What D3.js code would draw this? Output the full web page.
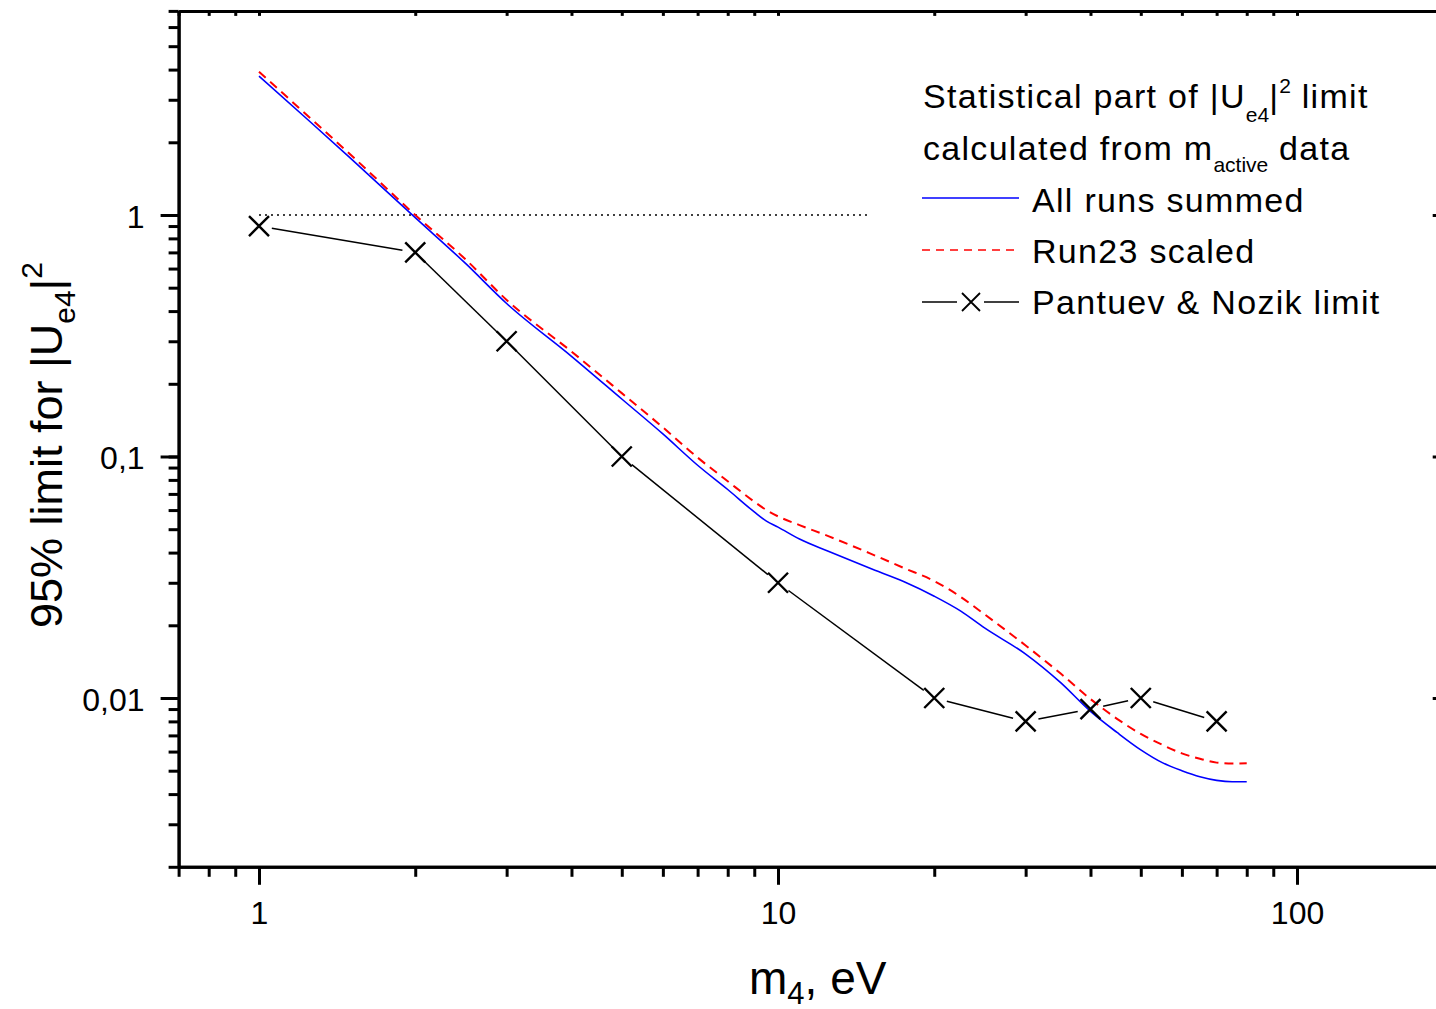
<!DOCTYPE html>
<html>
<head>
<meta charset="utf-8">
<script src="https://d3js.org/d3.v7.min.js"></script>
<style>
  body { margin: 0; background: #fff; }
  svg text { font-family: "Liberation Sans", Arial, Helvetica, sans-serif; fill: #000; }
</style>
</head>
<body>
<div id="chart"></div>
<script>
// m4 grid (eV) for the two computed limit curves
const massGrid = [1, 1.25, 1.5, 2, 2.5, 3, 4, 5, 6, 7, 8, 9, 9.5, 10, 11, 12.5, 15, 17.5, 20, 22.5, 25, 30, 35, 40, 45, 50, 55, 60, 65, 70, 75, 80];
const allRunsSummed = [3.76, 2.45, 1.72, 0.975, 0.63, 0.43, 0.26, 0.173, 0.124, 0.092, 0.073, 0.059, 0.054, 0.051, 0.0455, 0.0405, 0.0345, 0.0303, 0.0264, 0.0229, 0.0195, 0.0152, 0.0116, 0.0088, 0.0072, 0.0061, 0.0054, 0.005, 0.00472, 0.00456, 0.0045, 0.0045];
const run23Scaled = [3.92, 2.54, 1.78, 1.0, 0.655, 0.445, 0.272, 0.183, 0.132, 0.099, 0.079, 0.065, 0.06, 0.0565, 0.052, 0.0468, 0.0398, 0.0345, 0.0305, 0.0262, 0.0222, 0.0165, 0.01265, 0.0099, 0.0082, 0.0071, 0.0064, 0.0059, 0.0056, 0.0054, 0.00535, 0.00537];

// Pantuev & Nozik limit points
const pantuevMass = [1, 2, 3, 5, 10, 20, 30, 40, 50, 70];
const pantuevLimit = [0.9, 0.7, 0.3, 0.1, 0.03, 0.01, 0.008, 0.009, 0.01, 0.008];

// dotted reference at |Ue4|^2 = 1
const unityMass = [1, 15];
const unityValue = [1, 1];

const xMajorTicks = [1, 10, 100];
const xTickLabels = ["1", "10", "100"];
const yMajorTicks = [0.01, 0.1, 1];
const yTickLabels = ["0,01", "0,1", "1"];

const width = 1436;
const height = 1009;

const svg = d3.select("#chart")
  .append("svg")
  .attr("width", width)
  .attr("height", height);

const x = d3.scaleLog().domain([0.7, 190]).range([178.6, 1441.7]);
const y = d3.scaleLog().domain([0.002, 7]).range([866.8, 10.9]);

const x0 = x.range()[0], x1 = x.range()[1];
const y0 = y.range()[0], y1 = y.range()[1];

// minor tick positions: every integer multiple inside each decade
function minorTicks(scale) {
  const [a, b] = scale.domain();
  const out = [];
  for (let e = Math.floor(Math.log10(a)); e <= Math.ceil(Math.log10(b)); e++) {
    for (let k = 1; k <= 9; k++) {
      const v = k * Math.pow(10, e);
      if (v >= a * 0.999 && v <= b * 1.001) out.push(v);
    }
  }
  return out;
}
const xMinor = minorTicks(x);
const yMinor = minorTicks(y);

function styleAxis(g) {
  g.selectAll("path.domain").attr("stroke", "#000").attr("stroke-width", 3);
  g.selectAll(".tick line").attr("stroke", "#000").attr("stroke-width", 3);
}

// bottom axis
svg.append("g")
  .attr("transform", `translate(0,${y0})`)
  .call(d3.axisBottom(x).tickValues(xMinor).tickSize(10).tickSizeOuter(0).tickFormat(""))
  .call(styleAxis);
const xb = svg.append("g")
  .attr("transform", `translate(0,${y0})`)
  .call(d3.axisBottom(x).tickValues(xMajorTicks).tickSize(18).tickSizeOuter(0)
    .tickFormat((d, i) => xTickLabels[i]))
  .call(styleAxis);
xb.selectAll("text").attr("y", 57).attr("dy", null)
  .style("font-size", "32px").style("font-family", null);

// left axis
svg.append("g")
  .attr("transform", `translate(${x0},0)`)
  .call(d3.axisLeft(y).tickValues(yMinor).tickSize(10).tickSizeOuter(0).tickFormat(""))
  .call(styleAxis);
const yl = svg.append("g")
  .attr("transform", `translate(${x0},0)`)
  .call(d3.axisLeft(y).tickValues(yMajorTicks).tickSize(18).tickSizeOuter(0)
    .tickFormat((d, i) => yTickLabels[i]))
  .call(styleAxis);
yl.selectAll("text").attr("x", -34).attr("dy", "0.38em")
  .style("font-size", "32px").style("font-family", null);

// top axis, small inward ticks
svg.append("g")
  .attr("transform", `translate(0,${y1})`)
  .call(d3.axisTop(x).tickValues(xMinor).tickSize(-5).tickSizeOuter(0).tickFormat(""))
  .call(styleAxis);

// right axis, inward ticks
svg.append("g")
  .attr("transform", `translate(${x1},0)`)
  .call(d3.axisRight(y).tickValues(yMinor).tickSize(-5).tickSizeOuter(0).tickFormat(""))
  .call(styleAxis);
svg.append("g")
  .attr("transform", `translate(${x1},0)`)
  .call(d3.axisRight(y).tickValues(yMajorTicks).tickSize(-9).tickSizeOuter(0).tickFormat(""))
  .call(styleAxis);

// dotted line at 1
svg.append("path")
  .datum(unityMass.map((m, i) => [m, unityValue[i]]))
  .attr("d", d3.line().x(d => x(d[0])).y(d => y(d[1])))
  .attr("fill", "none")
  .attr("stroke", "#000")
  .attr("stroke-width", 1.5)
  .attr("stroke-dasharray", "2,4");

const curve = d3.line()
  .x(d => x(d[0]))
  .y(d => y(d[1]))
  .curve(d3.curveMonotoneX);

// Run23 scaled (red dashed)
svg.append("path")
  .datum(massGrid.map((m, i) => [m, run23Scaled[i]]))
  .attr("d", curve)
  .attr("fill", "none")
  .attr("stroke", "#ff0000")
  .attr("stroke-width", 2)
  .attr("stroke-dasharray", "9,6");

// All runs summed (blue)
svg.append("path")
  .datum(massGrid.map((m, i) => [m, allRunsSummed[i]]))
  .attr("d", curve)
  .attr("fill", "none")
  .attr("stroke", "#0000ff")
  .attr("stroke-width", 1.6);

// Pantuev & Nozik: segments with a gap around each marker
const gap = 13;
const pPts = pantuevMass.map((m, i) => [x(m), y(pantuevLimit[i])]);
svg.selectAll(".pn-seg")
  .data(d3.pairs(pPts))
  .enter().append("line")
  .attr("class", "pn-seg")
  .each(function([a, b]) {
    const dx = b[0] - a[0], dy = b[1] - a[1];
    const len = Math.hypot(dx, dy);
    const ux = dx / len, uy = dy / len;
    d3.select(this)
      .attr("x1", a[0] + ux * gap).attr("y1", a[1] + uy * gap)
      .attr("x2", b[0] - ux * gap).attr("y2", b[1] - uy * gap);
  })
  .attr("stroke", "#000")
  .attr("stroke-width", 1.5);

function cross(sel, s, w) {
  sel.append("path")
    .attr("d", `M${-s},${-s}L${s},${s}M${-s},${s}L${s},${-s}`)
    .attr("stroke", "#000")
    .attr("stroke-width", w)
    .attr("fill", "none");
}
svg.selectAll(".pn-mark")
  .data(pPts)
  .enter().append("g")
  .attr("class", "pn-mark")
  .attr("transform", d => `translate(${d[0]},${d[1]})`)
  .each(function() { cross(d3.select(this), 10, 2.4); });

// axis titles
const xTitle = svg.append("text")
  .attr("x", 749)
  .attr("y", 994)
  .style("font-size", "46px");
xTitle.append("tspan").text("m");
xTitle.append("tspan").attr("dy", 10).style("font-size", "31px").text("4");
xTitle.append("tspan").attr("dy", -10).text(", eV");

const yTitle = svg.append("text")
  .attr("transform", "translate(62,445) rotate(-90)")
  .attr("text-anchor", "middle")
  .style("font-size", "45px");
yTitle.append("tspan").text("95% limit for |U");
yTitle.append("tspan").attr("dy", 13).style("font-size", "30px").text("e4");
yTitle.append("tspan").attr("dy", -13).text("|");
yTitle.append("tspan").attr("dy", -20).style("font-size", "30px").text("2");

// legend
const legend = svg.append("g").attr("class", "legend");
const legendFont = "34px";
const legendSpacing = "1.3px";

const h1 = legend.append("text").attr("x", 923).attr("y", 108)
  .style("font-size", legendFont).style("letter-spacing", legendSpacing);
h1.append("tspan").text("Statistical part of |U");
h1.append("tspan").attr("dy", 14).style("font-size", "21px").style("letter-spacing", "0px").text("e4");
h1.append("tspan").attr("dy", -14).text("|");
h1.append("tspan").attr("dy", -15).style("font-size", "21px").style("letter-spacing", "0px").text("2");
h1.append("tspan").attr("dy", 15).text(" limit");

const h2 = legend.append("text").attr("x", 923).attr("y", 160)
  .style("font-size", legendFont).style("letter-spacing", legendSpacing);
h2.append("tspan").text("calculated from m");
h2.append("tspan").attr("dy", 12).style("font-size", "21px").style("letter-spacing", "0px").text("active");
h2.append("tspan").attr("dy", -12).text(" data");

legend.append("line")
  .attr("x1", 922).attr("x2", 1019).attr("y1", 198).attr("y2", 198)
  .attr("stroke", "#0000ff").attr("stroke-width", 1.6);
legend.append("text").attr("x", 1032).attr("y", 212)
  .style("font-size", legendFont).style("letter-spacing", legendSpacing)
  .text("All runs summed");

legend.append("line")
  .attr("x1", 922).attr("x2", 1019).attr("y1", 250).attr("y2", 250)
  .attr("stroke", "#ff0000").attr("stroke-width", 1.6).attr("stroke-dasharray", "8,6");
legend.append("text").attr("x", 1032).attr("y", 263)
  .style("font-size", legendFont).style("letter-spacing", legendSpacing)
  .text("Run23 scaled");

legend.append("line")
  .attr("x1", 922).attr("x2", 957).attr("y1", 302).attr("y2", 302)
  .attr("stroke", "#000").attr("stroke-width", 1.3);
legend.append("line")
  .attr("x1", 984).attr("x2", 1019).attr("y1", 302).attr("y2", 302)
  .attr("stroke", "#000").attr("stroke-width", 1.3);
legend.append("g")
  .attr("transform", "translate(971,302)")
  .call(g => cross(g, 9, 1.8));
legend.append("text").attr("x", 1032).attr("y", 314)
  .style("font-size", legendFont).style("letter-spacing", legendSpacing)
  .text("Pantuev & Nozik limit");
</script>
</body>
</html>
